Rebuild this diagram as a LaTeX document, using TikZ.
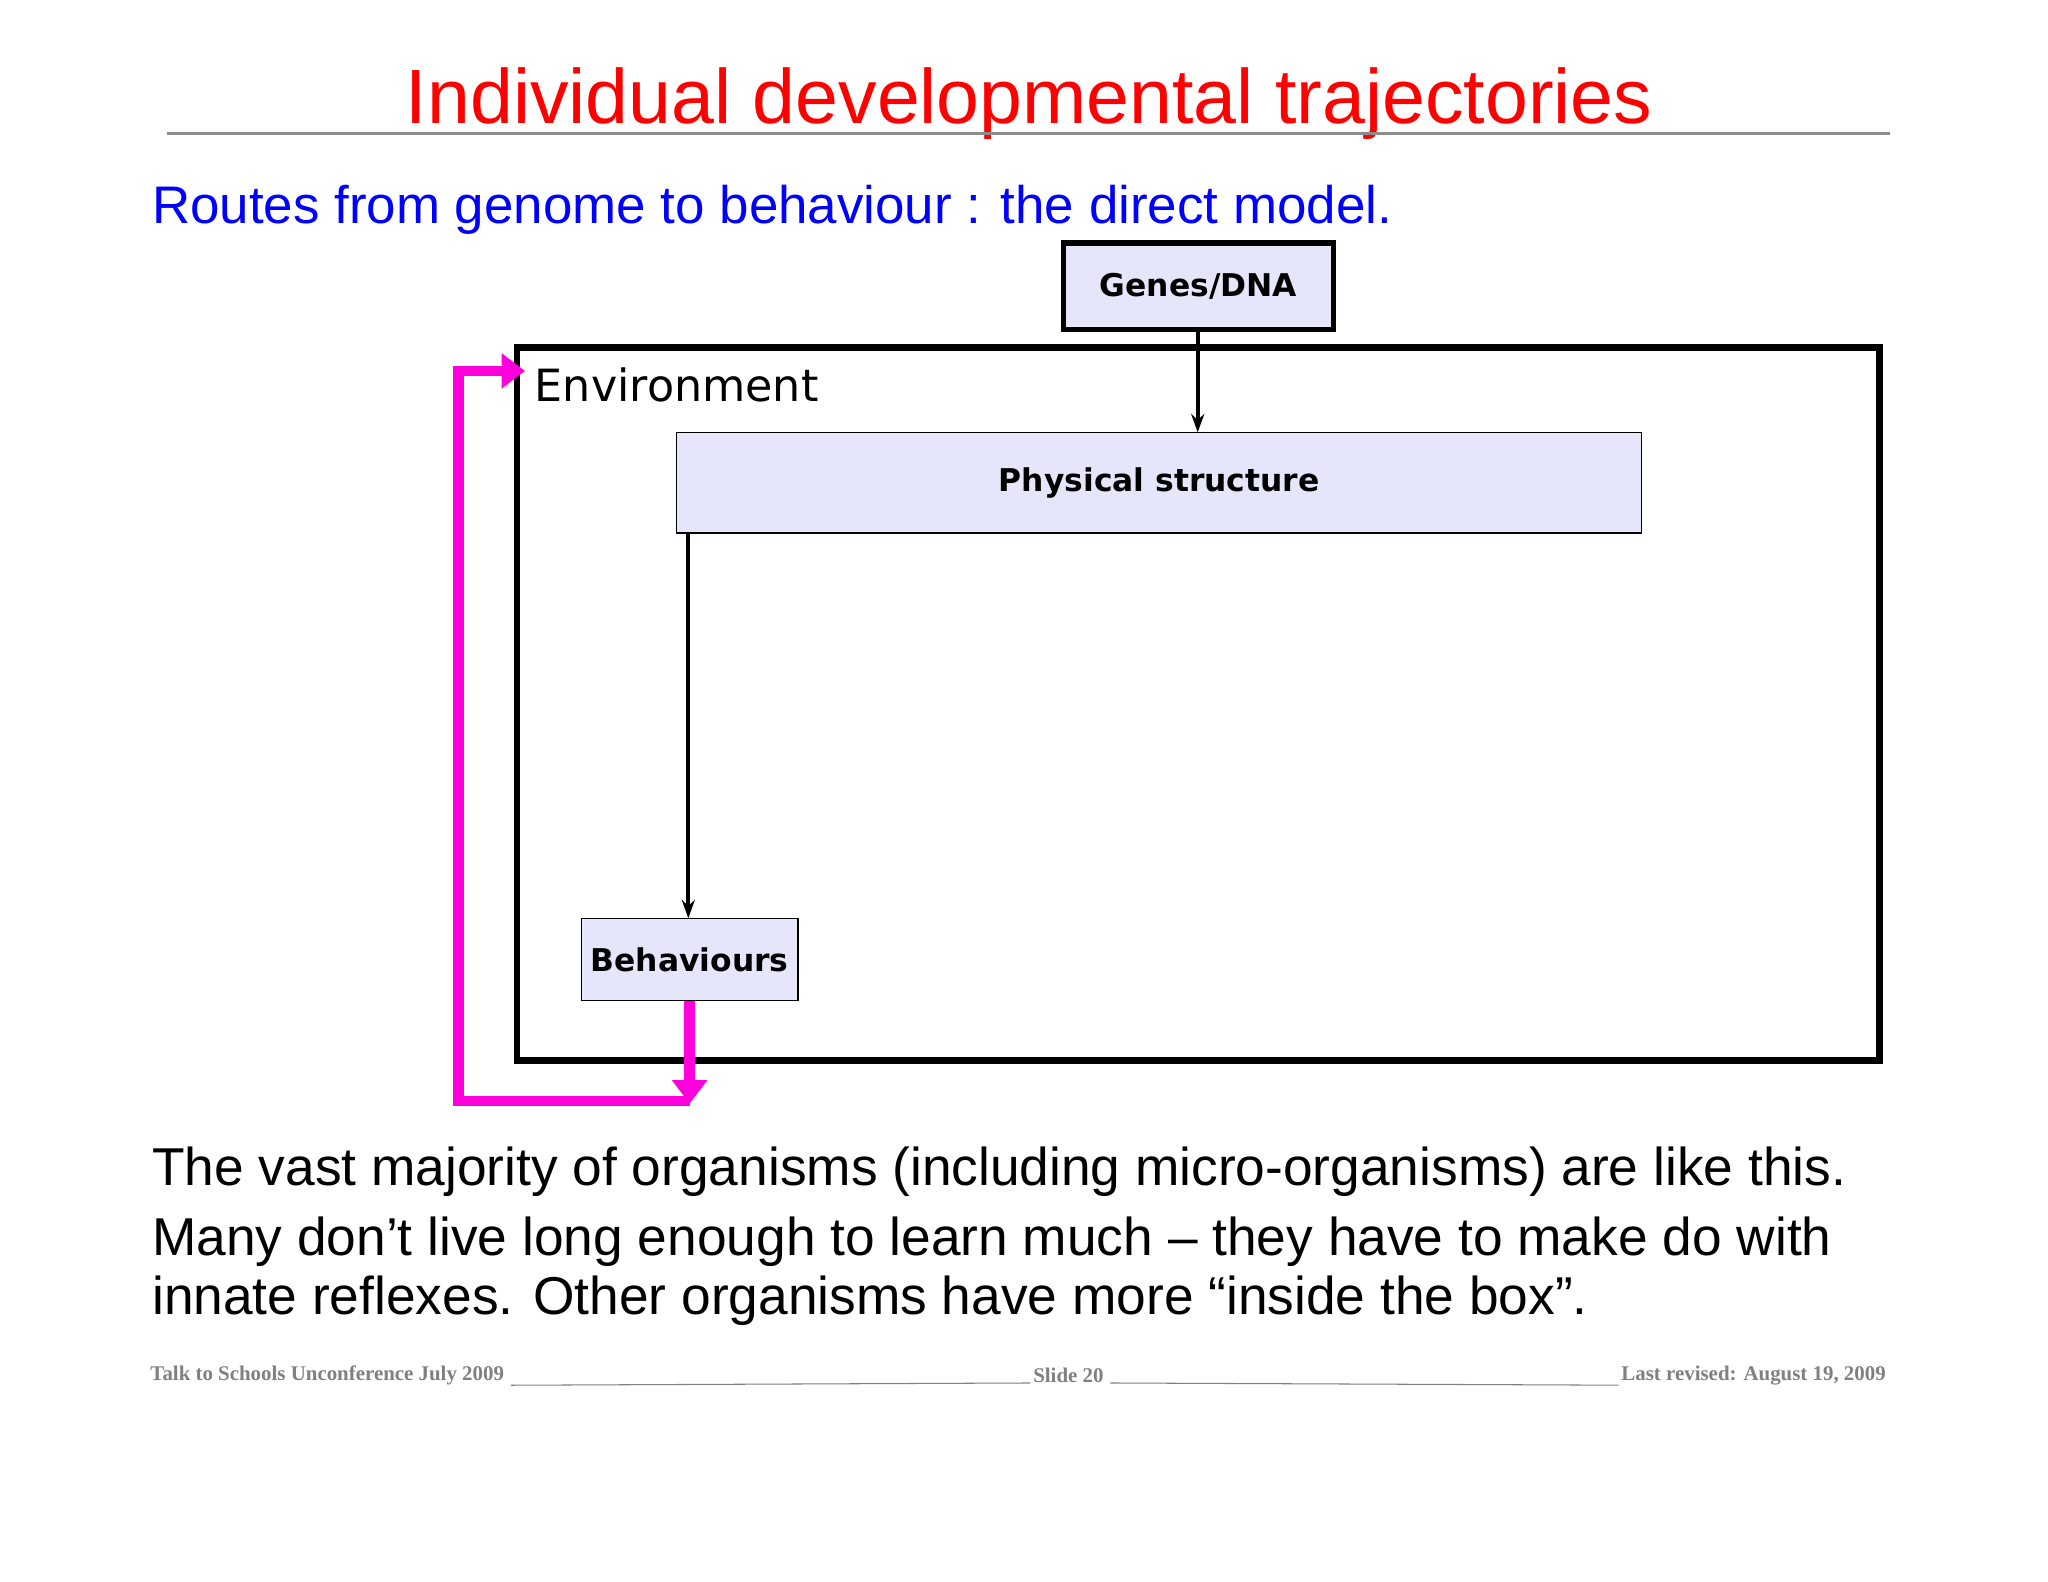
\documentclass[tikz,border=0pt]{standalone}
\usepackage{fontspec}
\setmainfont{Liberation Sans}
\newfontfamily\dv{DejaVu Sans}
\newfontfamily\ser{Liberation Serif}
\usetikzlibrary{arrows.meta}
\definecolor{lav}{RGB}{230,230,250}
\definecolor{mag}{RGB}{255,0,220}
\begin{document}
\begin{tikzpicture}[x=1pt,y=-1pt,
 boxA/.style={draw=black,fill=lav,inner sep=0pt,font=\dv\bfseries\fontsize{24}{28}\selectfont},
 arr/.style={-{Stealth[length=14,width=10]},line width=3pt},
 marr/.style={draw=mag,line width=8pt,-{Triangle[length=18,width=26]}}]
\useasboundingbox[fill=white] (0,0) rectangle (1568,1211);
\node[text=red,font=\fontsize{59}{64}\selectfont] (title) at (788,79) {Individual developmental trajectories};
\draw[gray!90,line width=2.5pt] (128,102) -- (1447,102);
\node[anchor=west,text=blue,font=\fontsize{40.5}{46}\selectfont] (sub) at (113,161) {Routes from genome to behaviour : the direct model.};
\draw[line width=5pt] (396,266) rectangle (1439,812);
\node[anchor=west,font=\dv\fontsize{34}{40}\selectfont] (env) at (406,295) {Environment};
\node[boxA,line width=4pt,minimum width=207,minimum height=66] (genes) at (917.5,219) {Genes/DNA};
\node[boxA,line width=1pt,minimum width=739,minimum height=77] (phys) at (887.5,369.5) {Physical structure};
\node[boxA,line width=1pt,minimum width=166,minimum height=63] (beh) at (528,734.5) {Behaviours};
\draw[arr] (genes.south -| 917,0) -- (917,331);
\draw[arr] (527,408) -- (527,703);
\coordinate (m1) at (528,845);
\coordinate (m2) at (351,843);
\coordinate (m3) at (351,284);
\coordinate (m4) at (402,284);
\draw[marr] (beh.south) -- (m1);
\draw[draw=mag,line width=8pt,line join=miter,-{Triangle[length=18,width=26]}] (528,843) -- (m2) -- (m3) -- (m4);
\node[anchor=west,font=\fontsize{40.8}{45}\selectfont] (t1) at (113,897) {The vast majority of organisms (including micro-organisms) are like this.};
\node[anchor=north west,align=left,font=\fontsize{40.8}{45}\selectfont] (t2) at (113,928) {Many don’t live long enough to learn much – they have to make do with\\innate reflexes. Other organisms have more “inside the box”.};
\begin{scope}[font=\ser\bfseries\fontsize{16}{18}\selectfont,text=gray]
\node[anchor=west,inner sep=0] (f1) at (115,1053) {Talk to Schools Unconference July 2009};
\node[inner sep=0] (f2) at (818,1053) {Slide 20};
\node[anchor=east,inner sep=0] (f3) at (1444,1053) {Last revised: August 19, 2009};
\draw[gray,line width=0.8pt] ([xshift=5]f1.south east) -- ([xshift=-2]f2.south west);
\draw[gray,line width=0.8pt] ([xshift=5]f2.south east) -- ([xshift=-2]f3.south west);
\end{scope}
\end{tikzpicture}
\end{document}
